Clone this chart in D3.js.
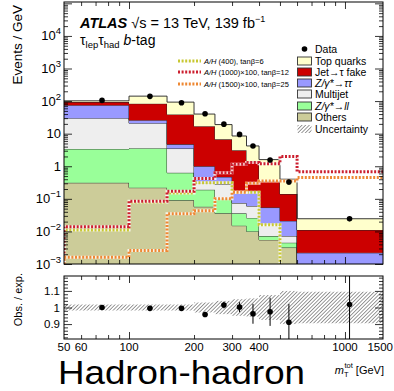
<!DOCTYPE html>
<html>
<head>
<meta charset="utf-8">
<script src="https://cdn.jsdelivr.net/npm/d3@7"></script>
<style>
body { margin: 0; background: #fff; }
svg { display: block; font-family: "Liberation Sans", Arial, Helvetica, sans-serif; }
</style>
</head>
<body>
<div id="chart"></div>
<script>
// bin edges of m_T^tot [GeV]
const binEdges = [50, 100, 150, 200, 250, 300, 350, 400, 500, 600, 1500];

// background contributions, Events / GeV, one value per bin
const others    = [0.31, 0.22, 0.09, 0.057, 0.036, 0.015, 0.010, 0.0055, 0.0032, 0.0002];
const zll       = [3.09, 3.38, 0.54, 0.133, 0.064, 0.021, 0.016, 0.0017, 0.0013, 0.0001];
const multijet  = [26.6, 17.4, 2.87, 0.11, 0.18, 0.038, 0.034, 0.0098, 0.0027, 0.0002];
const ztautau   = [45, 5, 1.2, 0.7, 0.19, 0.096, 0.11, 0.037, 0.0138, 0.0017];
const jetFake   = [18, 57, 34.3, 16, 6.23, 2.93, 1.28, 0.296, 0.119, 0.0088];
const topQuarks = [9, 59, 54, 23, 12.3, 5.4, 2.75, 1.25, 0.26, 0.0135];

// signals
const sig400  = [0.011, 0.08, 0.15, 0.31, 0.31, 0.16, 0.16, 0.016, 0.0001, 0.0001];
const sig1000 = [0.014, 0.085, 0.17, 0.42, 0.63, 1.15, 1.3, 1.2, 2.0, 0.68];
const sig1500 = [0.0016, 0.0026, 0.035, 0.043, 0.1, 0.16, 0.3, 0.35, 0.35, 0.45];

// data
const dataVals = [105, 140, 89, 41, 19.6, 9.5, 4.2, 1.55, 0.33, 0.0245];
const dataErr  = [1.5, 2, 2, 1.2, 0.7, 0.4, 0.25, 0.12, 0.06, 0.004];

// ratio panel
const ratioVals = [1.0, 0.995, 0.995, 0.958, 1.015, 1.002, 0.962, 0.974, 0.911, 1.018];
const ratioErr  = [0.005, 0.006, 0.008, 0.015, 0.02, 0.03, 0.06, 0.085, 0.11, 0.4];
const uncert    = [0.018, 0.018, 0.018, 0.03, 0.04, 0.05, 0.055, 0.075, 0.1, 0.095];

const xLabels = [50, 60, 100, 200, 300, 400, 1000, 1500];
const yLabelExp = [4, 3, 2, 1, 0, -1, -2, -3];

const keys = ["Others", "Zll", "Multijet", "Ztautau", "Fake", "Top"];
const colors = {
    Others: "#cccc99", Zll: "#99ff99", Multijet: "#eeeeee",
    Ztautau: "#9999ff", Fake: "#cc0000", Top: "#ffffcc"
};

const W = 394, H = 391;
const left = 64, right = 383;
const mainTop = 2, mainBot = 264;
const ratTop = 276, ratBot = 339;

const svg = d3.select("#chart").append("svg")
    .attr("width", W)
    .attr("height", H);

const defs = svg.append("defs");
defs.append("clipPath").attr("id", "clipMain")
    .append("rect").attr("x", left).attr("y", mainTop)
    .attr("width", right - left).attr("height", mainBot - mainTop);
defs.append("clipPath").attr("id", "clipRatio")
    .append("rect").attr("x", left).attr("y", ratTop)
    .attr("width", right - left).attr("height", ratBot - ratTop);
const hatch = defs.append("pattern").attr("id", "hatch")
    .attr("width", 2.6).attr("height", 2.6)
    .attr("patternUnits", "userSpaceOnUse")
    .attr("patternTransform", "rotate(45)");
hatch.append("line").attr("x1", 0).attr("y1", 0).attr("x2", 0).attr("y2", 2.6)
    .attr("stroke", "#333").attr("stroke-width", 1);

const x = d3.scaleLog().domain([50, 1500]).range([left, right]);
const y = d3.scaleLog().domain([1e-3, 1.1e5]).range([mainBot, mainTop]);
const yr = d3.scaleLinear().domain([0.81, 1.19]).range([ratBot, ratTop]);

const table = binEdges.slice(0, -1).map((lo, i) => ({
    lo: lo, hi: binEdges[i + 1],
    Others: others[i], Zll: zll[i], Multijet: multijet[i],
    Ztautau: ztautau[i], Fake: jetFake[i], Top: topQuarks[i]
}));
const stacked = d3.stack().keys(keys)(table);

const yc = v => y(Math.max(v, 1e-5));

const main = svg.append("g").attr("clip-path", "url(#clipMain)");

const area = d3.area()
    .curve(d3.curveStepAfter)
    .x(d => x(d.x))
    .y0(d => yc(d.y0))
    .y1(d => yc(d.y1));
const topLine = d3.line()
    .curve(d3.curveStepAfter)
    .x(d => x(d.x))
    .y(d => yc(d.y1));

stacked.forEach(layer => {
    const pts = layer.map(d => ({ x: d.data.lo, y0: d[0], y1: d[1] }));
    const last = layer[layer.length - 1];
    pts.push({ x: last.data.hi, y0: last[0], y1: last[1] });
    main.append("path")
        .attr("d", area(pts))
        .attr("fill", colors[layer.key]);
    main.append("path")
        .attr("d", topLine(pts))
        .attr("fill", "none")
        .attr("stroke", "#222")
        .attr("stroke-width", 0.9);
});

// signal histograms
const signals = [
    { vals: sig400, color: "#c8c832" },
    { vals: sig1000, color: "#cc1f2f" },
    { vals: sig1500, color: "#ee8833" }
];
const sigLine = d3.line()
    .curve(d3.curveStepAfter)
    .x(d => x(d.x))
    .y(d => yc(d.v));
signals.forEach(s => {
    const pts = [{ x: 50, v: 1e-5 }];
    s.vals.forEach((v, i) => pts.push({ x: binEdges[i], v: v }));
    pts.push({ x: 1500, v: s.vals[s.vals.length - 1] });
    main.append("path").attr("d", sigLine(pts))
        .attr("fill", "none").attr("stroke", "#fff")
        .attr("stroke-width", 3).attr("opacity", 0.8);
    main.append("path").attr("d", sigLine(pts))
        .attr("fill", "none").attr("stroke", s.color)
        .attr("stroke-width", 3).attr("stroke-dasharray", "2,1.6");
});

// data points
const centers = table.map(d => (d.lo + d.hi) / 2);
main.selectAll("line.err").data(dataVals).enter().append("line")
    .attr("x1", (d, i) => x(centers[i])).attr("x2", (d, i) => x(centers[i]))
    .attr("y1", (d, i) => yc(d - dataErr[i])).attr("y2", (d, i) => yc(d + dataErr[i]))
    .attr("stroke", "#000").attr("stroke-width", 1);
main.selectAll("circle.dat").data(dataVals).enter().append("circle")
    .attr("cx", (d, i) => x(centers[i]))
    .attr("cy", d => y(d))
    .attr("r", 2.8)
    .attr("fill", "#000");

// main frame and ticks
function decadeTicks(lo, hi) {
    const major = [], minor = [];
    for (let e = lo; e <= hi; e++) {
        major.push(Math.pow(10, e));
        for (let k = 2; k <= 9; k++) minor.push(k * Math.pow(10, e));
    }
    return { major, minor };
}
const yt = decadeTicks(-3, 5);
const xMajor = [100, 1000];
const xMinor = [60, 70, 80, 90, 200, 300, 400, 500, 600, 700, 800, 900];

function tickGroup(axis, transform) {
    const g = svg.append("g").attr("transform", transform).call(axis);
    g.select(".domain").remove();
    g.selectAll("text").remove();
    g.selectAll("line").attr("stroke", "#000").attr("stroke-width", 0.8);
    return g;
}

tickGroup(d3.axisLeft(y).tickValues(yt.major.filter(v => v < 1.1e5)).tickSize(-8), `translate(${left},0)`);
tickGroup(d3.axisLeft(y).tickValues(yt.minor.filter(v => v < 1.1e5)).tickSize(-4), `translate(${left},0)`);
tickGroup(d3.axisRight(y).tickValues(yt.major.filter(v => v < 1.1e5)).tickSize(-8), `translate(${right},0)`);
tickGroup(d3.axisRight(y).tickValues(yt.minor.filter(v => v < 1.1e5)).tickSize(-4), `translate(${right},0)`);
tickGroup(d3.axisBottom(x).tickValues(xMajor).tickSize(-7), `translate(0,${mainBot})`);
tickGroup(d3.axisBottom(x).tickValues(xMinor).tickSize(-4), `translate(0,${mainBot})`);
tickGroup(d3.axisTop(x).tickValues(xMajor).tickSize(-7), `translate(0,${mainTop})`);
tickGroup(d3.axisTop(x).tickValues(xMinor).tickSize(-4), `translate(0,${mainTop})`);

svg.append("rect")
    .attr("x", left).attr("y", mainTop)
    .attr("width", right - left).attr("height", mainBot - mainTop)
    .attr("fill", "none").attr("stroke", "#000").attr("stroke-width", 1);

// main y tick labels
yLabelExp.forEach(e => {
    const t = svg.append("text")
        .attr("x", 61)
        .attr("y", y(Math.pow(10, e)))
        .attr("dy", "0.35em")
        .attr("text-anchor", "end")
        .style("font-size", "13px");
    if (e === 0) t.text("1");
    else if (e === 1) t.text("10");
    else {
        t.append("tspan").text("10");
        t.append("tspan").attr("dy", -6).style("font-size", "9.5px").text(e < 0 ? "\u2212" + (-e) : e);
    }
});

svg.append("text")
    .attr("transform", "translate(22,5) rotate(-90)")
    .attr("text-anchor", "end")
    .style("font-size", "13.5px")
    .text("Events / GeV");

// ATLAS label
const atl = svg.append("text").attr("x", 80).attr("y", 28).style("font-size", "14.5px");
atl.append("tspan").style("font-weight", "bold").style("font-style", "italic").text("ATLAS");
atl.append("tspan").text("  \u221As = 13 TeV, 139 fb");
atl.append("tspan").attr("dy", -6).style("font-size", "9px").text("\u22121");

const chan = svg.append("text").attr("x", 80).attr("y", 45).style("font-size", "14px");
chan.append("tspan").text("\u03C4");
chan.append("tspan").attr("dy", 3).style("font-size", "9.5px").text("lep");
chan.append("tspan").attr("dy", -3).text("\u03C4");
chan.append("tspan").attr("dy", 3).style("font-size", "9.5px").text("had");
chan.append("tspan").attr("dy", -3).text(" ");
chan.append("tspan").style("font-style", "italic").text("b");
chan.append("tspan").text("-tag");

// legend right
const legRows = [49, 61, 72, 83, 94, 106, 117, 129];
const legItems = [
    { kind: "data", label: ["Data"] },
    { kind: "box", key: "Top", label: ["Top quarks"] },
    { kind: "box", key: "Fake", label: ["Jet\u2192\u03C4 fake"] },
    { kind: "box", key: "Ztautau", label: ["Z/\u03B3*\u2192\u03C4\u03C4", true] },
    { kind: "box", key: "Multijet", label: ["Multijet"] },
    { kind: "box", key: "Zll", label: ["Z/\u03B3*\u2192ll", true] },
    { kind: "box", key: "Others", label: ["Others"] },
    { kind: "hatch", label: ["Uncertainty"] }
];
legItems.forEach((it, i) => {
    const cy = legRows[i];
    if (it.kind === "data") {
        svg.append("circle").attr("cx", 304.5).attr("cy", cy).attr("r", 2.8).attr("fill", "#000");
    } else if (it.kind === "box") {
        svg.append("rect").attr("x", 297.5).attr("y", cy - 4).attr("width", 14).attr("height", 8)
            .attr("fill", colors[it.key]).attr("stroke", "#333").attr("stroke-width", 0.9);
    } else {
        svg.append("rect").attr("x", 297.5).attr("y", cy - 4).attr("width", 14).attr("height", 8)
            .attr("fill", "url(#hatch)");
    }
    const t = svg.append("text").attr("x", 315).attr("y", cy).attr("dy", "0.35em")
        .style("font-size", "10.5px").text(it.label[0]);
    if (it.label[1]) t.style("font-style", "italic");
});

// legend left (signals)
const sigLabels = [
    ["A/H", " (400), tan\u03B2=6"],
    ["A/H", " (1000)\u00D7100, tan\u03B2=12"],
    ["A/H", " (1500)\u00D7100, tan\u03B2=25"]
];
const sigRows = [61, 72, 84];
signals.forEach((s, i) => {
    const cy = sigRows[i];
    svg.append("line").attr("x1", 178).attr("x2", 201).attr("y1", cy).attr("y2", cy)
        .attr("stroke", "#fff").attr("stroke-width", 3);
    svg.append("line").attr("x1", 178).attr("x2", 201).attr("y1", cy).attr("y2", cy)
        .attr("stroke", s.color).attr("stroke-width", 3).attr("stroke-dasharray", "2,1.6");
    const t = svg.append("text").attr("x", 204).attr("y", cy).attr("dy", "0.35em").style("font-size", "7.5px");
    t.append("tspan").style("font-style", "italic").text(sigLabels[i][0]);
    t.append("tspan").text(sigLabels[i][1]);
});

// ratio panel
const ratio = svg.append("g").attr("clip-path", "url(#clipRatio)");
ratio.selectAll("rect.unc").data(uncert).enter().append("rect")
    .attr("x", (d, i) => x(binEdges[i]))
    .attr("width", (d, i) => x(binEdges[i + 1]) - x(binEdges[i]))
    .attr("y", d => yr(1 + d))
    .attr("height", d => yr(1 - d) - yr(1 + d))
    .attr("fill", "url(#hatch)");
ratio.selectAll("line.rerr").data(ratioVals).enter().append("line")
    .attr("x1", (d, i) => x(centers[i])).attr("x2", (d, i) => x(centers[i]))
    .attr("y1", (d, i) => yr(d - ratioErr[i])).attr("y2", (d, i) => yr(d + ratioErr[i]))
    .attr("stroke", "#000").attr("stroke-width", 1);
ratio.selectAll("circle.rat").data(ratioVals).enter().append("circle")
    .attr("cx", (d, i) => x(centers[i]))
    .attr("cy", d => yr(d))
    .attr("r", 2.8)
    .attr("fill", "#000");

const rMajor = [0.9, 1.0, 1.1];
const rMinor = d3.range(0.82, 1.19, 0.02).filter(v => !rMajor.some(m => Math.abs(m - v) < 1e-6));
tickGroup(d3.axisLeft(yr).tickValues(rMajor).tickSize(-8), `translate(${left},0)`);
tickGroup(d3.axisLeft(yr).tickValues(rMinor).tickSize(-4), `translate(${left},0)`);
tickGroup(d3.axisRight(yr).tickValues(rMajor).tickSize(-8), `translate(${right},0)`);
tickGroup(d3.axisRight(yr).tickValues(rMinor).tickSize(-4), `translate(${right},0)`);
tickGroup(d3.axisBottom(x).tickValues(xMajor).tickSize(-7), `translate(0,${ratBot})`);
tickGroup(d3.axisBottom(x).tickValues(xMinor).tickSize(-4), `translate(0,${ratBot})`);
tickGroup(d3.axisTop(x).tickValues(xMajor).tickSize(-7), `translate(0,${ratTop})`);
tickGroup(d3.axisTop(x).tickValues(xMinor).tickSize(-4), `translate(0,${ratTop})`);

svg.append("rect")
    .attr("x", left).attr("y", ratTop)
    .attr("width", right - left).attr("height", ratBot - ratTop)
    .attr("fill", "none").attr("stroke", "#000").attr("stroke-width", 1);

rMajor.forEach(v => {
    svg.append("text").attr("x", 60).attr("y", yr(v)).attr("dy", "0.35em")
        .attr("text-anchor", "end").style("font-size", "11.5px")
        .text(v === 1 ? "1" : v.toFixed(1));
});

svg.append("text")
    .attr("transform", "translate(22,273) rotate(-90)")
    .attr("text-anchor", "end")
    .style("font-size", "11px")
    .text("Obs. / exp.");

xLabels.forEach(v => {
    const last = v === 1500;
    svg.append("text").attr("x", last ? 393 : x(v)).attr("y", 351)
        .attr("text-anchor", last ? "end" : "middle").style("font-size", "11.5px")
        .text(v);
});

const xt = svg.append("text").attr("x", 384).attr("y", 374)
    .attr("text-anchor", "end").style("font-size", "11px");
xt.append("tspan").style("font-style", "italic").text("m");
xt.append("tspan").attr("dy", 3).style("font-size", "7.5px").text("T");
xt.append("tspan").attr("dx", -4).attr("dy", -9).style("font-size", "7.5px").text("tot");
xt.append("tspan").attr("dy", 6).text(" [GeV]");

svg.append("text").attr("x", 58).attr("y", 384)
    .attr("textLength", 247)
    .attr("lengthAdjust", "spacingAndGlyphs")
    .style("font-size", "34px")
    .text("Hadron-hadron");
</script>
</body>
</html>
